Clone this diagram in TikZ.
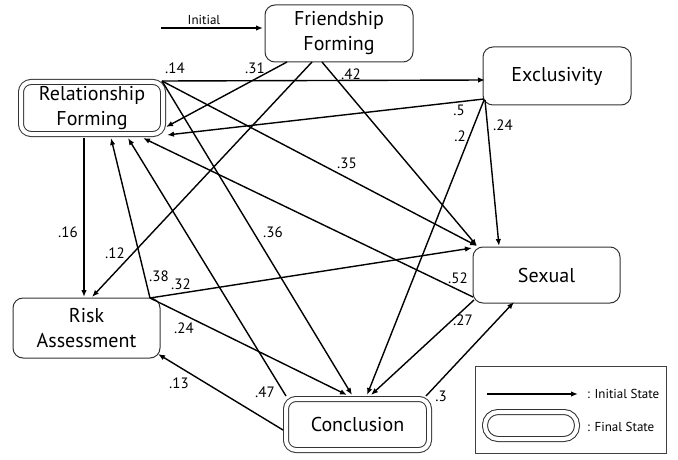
\documentclass[tikz,border=0pt]{standalone}
\usepackage{fontspec}
\setmainfont{PT Sans}
\usetikzlibrary{arrows.meta,calc}
\begin{document}
\begin{tikzpicture}[x=1pt,y=-1pt,
  state/.style={draw=black!80, line width=1pt, rounded corners=10pt, align=center,
    font=\fontsize{20}{25}\selectfont, inner sep=0pt, minimum width=148pt, minimum height=57pt},
  final/.style={state, double=white, double distance=4pt, minimum width=142pt, minimum height=52pt},
  edge/.style={line width=1.4pt, -{Latex[length=7pt,width=5.5pt]}},
  lbl/.style={font=\fontsize{15}{17}\selectfont, inner sep=0pt},
  small/.style={font=\fontsize{13}{15}\selectfont, inner sep=0pt}]
\useasboundingbox (0,0) rectangle (678,460);

% states
\node[state] (fr) at (339,33.5) {Friendship\\Forming};
\node[state, minimum height=58pt] (ex) at (557,76) {Exclusivity};
\node[final] (rf) at (92,108) {Relationship\\Forming};
\node[state, minimum width=147pt, minimum height=56pt] (sx) at (546.5,275) {Sexual};
\node[state, minimum width=147pt, minimum height=60pt] (rk) at (86.5,328) {Risk\\Assessment};
\node[final, minimum width=143pt, minimum height=51pt] (cc) at (357.5,424.5) {Conclusion};

% initial arrow
\coordinate (init) at (161,28);
\draw[edge] (init) -- ($(fr)+(-76,-5.5)$);
\node[small] (initlbl) at (204,20) {Initial};

% edges
\draw[edge] ($(fr)+(-52,28.5)$) -- ($(rf)+(74,19)$);
\draw[edge] ($(fr)+(-27,28.5)$) -- ($(rk)+(5.5,-31)$);
\draw[edge] ($(fr)+(-17,28.5)$) -- ($(sx)+(-69.5,-29)$);
\draw[edge] ($(rf)+(70,-27)$) -- ($(ex)+(-72,4)$);
\draw[edge] ($(rf)+(70,-27)$) -- ($(sx)+(-69.5,-29)$);
\draw[edge] ($(rf)+(70,-27)$) -- ($(cc)+(-5.5,-29.5)$);
\draw[edge] ($(ex)+(-73,23)$) -- ($(rf)+(75,27)$);
\draw[edge] ($(ex)+(-73,24)$) -- ($(cc)+(9.5,-29.5)$);
\draw[edge] ($(ex)+(-72,24)$) -- ($(sx)+(-47.5,-29)$);
\draw[edge] ($(sx)+(-73.5,22)$) -- ($(rf)+(51,30)$);
\draw[edge] ($(rk)+(63.5,-30)$) -- ($(rf)+(19,30)$);
\draw[edge] ($(cc)+(-71.5,-28.5)$) -- ($(rf)+(36,30)$);
\draw[edge] ($(rk)+(63.5,-30)$) -- ($(sx)+(-74.5,-27)$);
\draw[edge] ($(rk)+(63.5,-30)$) -- ($(cc)+(-10.5,-29.5)$);
\draw[edge] ($(sx)+(-72.5,25)$) -- ($(cc)+(13.5,-29.5)$);
\draw[edge] ($(cc)+(68.5,-28.5)$) -- ($(sx)+(-32.5,27)$);
\draw[edge] ($(cc)+(-74.5,5.5)$) -- ($(rk)+(71.5,26)$);
\draw[edge] ($(rf)+(-8,30)$) -- ($(rk)+(-2.5,-31)$);

% labels
\node[lbl] (l14) at (175,68) {.14};
\node[lbl] (l31) at (255,68) {.31};
\node[lbl] (l42) at (351,74) {.42};
\node[lbl] (l5) at (459,110) {.5};
\node[lbl] (l2) at (460,136) {.2};
\node[lbl] (l24a) at (503,125) {.24};
\node[lbl] (l35) at (347,163) {.35};
\node[lbl] (l16) at (68,232) {.16};
\node[lbl] (l36) at (273,232) {.36};
\node[lbl] (l12) at (115,253) {.12};
\node[lbl] (l38) at (159,276) {.38};
\node[lbl] (l32) at (181,284) {.32};
\node[lbl] (l24b) at (184,328) {.24};
\node[lbl] (l13) at (179,383) {.13};
\node[lbl] (l47) at (265,392) {.47};
\node[lbl] (l52) at (458,278) {.52};
\node[lbl] (l27) at (463,320) {.27};
\node[lbl] (l3) at (441,396) {.3};

% legend
\node[draw=black!75, line width=0.8pt, minimum width=191pt, minimum height=87pt, inner sep=0pt] (legend) at (570.5,409.5) {};
\coordinate (legA) at (487,394);
\coordinate (legB) at (578,394);
\draw[edge] (legA) -- (legB);
\node[small, anchor=west] (legI) at (587,394) {: Initial State};
\node[final, rounded corners=13pt, minimum width=92pt, minimum height=27pt] (legF) at (531,425.5) {};
\node[small, anchor=west] (legFt) at (587,427) {: Final State};
\end{tikzpicture}
\end{document}
